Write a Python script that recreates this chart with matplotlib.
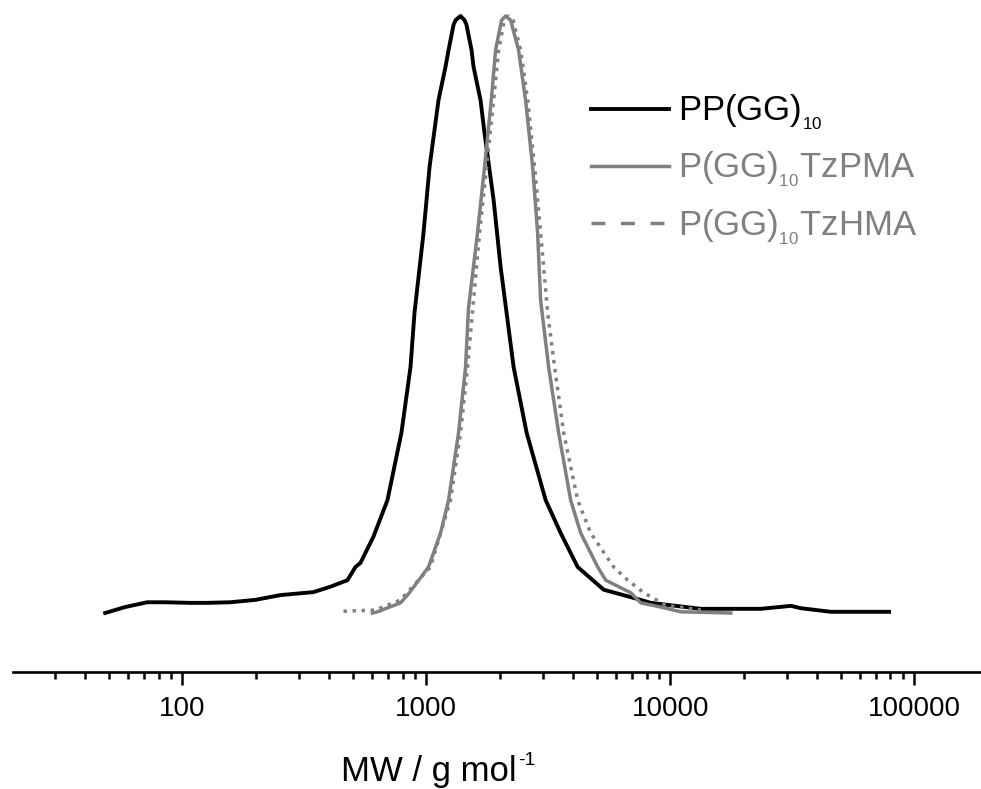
import matplotlib
matplotlib.use("Agg")
from matplotlib import pyplot as plt
from matplotlib.lines import Line2D
from matplotlib.ticker import LogLocator, NullFormatter, FixedLocator, FixedFormatter

plt.rcParams['font.family'] = ['Liberation Sans', 'DejaVu Sans']
plt.rcParams['mathtext.fontset'] = 'custom'
plt.rcParams['mathtext.rm'] = 'Liberation Sans'
plt.rcParams['mathtext.it'] = 'Liberation Sans:italic'
plt.rcParams['axes.unicode_minus'] = False

GREY = '#808080'

# PP(GG)10  (MW in g/mol, normalised detector signal)
pp_mw = [48.3, 58.3, 71.8, 85.2, 107.8, 126.6, 157.4, 199.3, 252.6, 344.9, 404.6,
         475.5, 512.6, 537.7, 607.9, 693.6, 791.6, 862.2, 895.5, 975, 1032, 1123,
         1200, 1235, 1294, 1319, 1383, 1436, 1463, 1534, 1563, 1670, 1734, 1889, 2018, 2135,
         2282, 2580, 3088, 3557, 4178, 5340, 7574, 8326, 13354, 23540, 31260,
         34360, 45600, 78900]
pp_int = [0.000, 0.010, 0.018, 0.018, 0.017, 0.017, 0.018, 0.022, 0.030, 0.035, 0.044,
          0.055, 0.077, 0.084, 0.128, 0.189, 0.302, 0.412, 0.503, 0.637, 0.747, 0.859,
          0.915, 0.943, 0.985, 0.993, 1.000, 0.993, 0.985, 0.943, 0.915, 0.859, 0.804, 0.692,
          0.580, 0.503, 0.412, 0.302, 0.189, 0.134, 0.077, 0.039, 0.022, 0.017, 0.007,
          0.007, 0.012, 0.008, 0.002, 0.002]

# P(GG)10TzPMA
pma_mw = [602, 631, 785, 850, 1022, 1145, 1235, 1357, 1450, 1490, 1623, 1734, 1848,
          1925, 2037, 2116, 2218, 2391, 2555, 2731, 2862, 2944, 3176, 3490, 3910,
          4297, 5047, 5441, 6890, 7574, 9150, 11050, 17730]
pma_int = [0.000, 0.002, 0.017, 0.033, 0.077, 0.134, 0.189, 0.302, 0.412, 0.510, 0.637,
           0.747, 0.859, 0.943, 0.993, 1.000, 0.993, 0.943, 0.859, 0.747, 0.637, 0.524,
           0.412, 0.302, 0.189, 0.134, 0.077, 0.055, 0.034, 0.017, 0.010, 0.002, 0.000]

# P(GG)10TzHMA
hma_mw = [458, 619, 785, 1041, 1258, 1383, 1477, 1563, 1655, 1768, 1889, 1981, 2090,
          2177, 2270, 2438, 2605, 2782, 2944, 3146, 3361, 3660, 4178, 4723, 5870,
          6699, 7792, 9594, 13354]
hma_int = [0.003, 0.005, 0.022, 0.077, 0.189, 0.302, 0.412, 0.524, 0.637, 0.747, 0.859,
           0.943, 0.993, 1.000, 0.993, 0.943, 0.859, 0.747, 0.637, 0.503, 0.412, 0.302,
           0.189, 0.134, 0.077, 0.055, 0.034, 0.013, 0.005]

labels = [r'PP(GG)${}_{{}_{\mathregular{10}}}$',
          r'P(GG)${}_{{}_{\mathregular{10}}}$TzPMA',
          r'P(GG)${}_{{}_{\mathregular{10}}}$TzHMA']
major_ticks = [100, 1000, 10000, 100000]
major_labels = ['100', '1000', '10000', '100000']

fig = plt.figure(figsize=(9.81, 7.89), dpi=100)
ax = fig.add_axes([0.0133, 0.1483, 0.9867, 0.8517])

l1, = ax.plot(pp_mw, pp_int, color='black', lw=2.8, solid_joinstyle='round')
l2, = ax.plot(pma_mw, pma_int, color=GREY, lw=2.5, solid_joinstyle='round')
l3, = ax.plot(hma_mw, hma_int, color=GREY, lw=2.5, linestyle=(0, (1.0, 1.6)))

ax.set_xscale('log')
ax.set_xlim(20.25, 188000)
ax.set_ylim(-0.0988, 1.0268)

for side in ['left', 'right', 'top']:
    ax.spines[side].set_visible(False)
ax.spines['bottom'].set_linewidth(1.9)
ax.set_yticks([])

ax.xaxis.set_major_locator(FixedLocator(major_ticks))
ax.xaxis.set_major_formatter(FixedFormatter(major_labels))
ax.xaxis.set_minor_locator(LogLocator(base=10, subs=range(2, 10), numticks=20))
ax.xaxis.set_minor_formatter(NullFormatter())
ax.tick_params(axis='x', which='major', direction='out', length=9.5, width=1.8,
               labelsize=20, pad=8)
ax.tick_params(axis='x', which='minor', direction='out', length=5, width=1.8)

# axis title, with a plain hyphen in the superscript
xt = ax.text(0.43, -0.162, 'MW / g mol', transform=ax.transAxes,
             ha='center', va='baseline', fontsize=25)
ax.annotate('-1', xy=(1.0, 0.0), xycoords=xt, xytext=(1, 16.5),
            textcoords='offset points', ha='left', va='baseline', fontsize=14)

hma_handle = Line2D([], [], color=GREY, lw=2.5, dashes=(4.0, 4.5))
leg = ax.legend([l1, l2, hma_handle], labels, loc='upper left',
                bbox_to_anchor=(0.5967, 0.862), frameon=False, fontsize=25,
                handlelength=2.25, handletextpad=0.27, labelspacing=0.5,
                labelcolor=['black', GREY, GREY], borderaxespad=0, borderpad=0)

fig.savefig('out.png', dpi=100)
